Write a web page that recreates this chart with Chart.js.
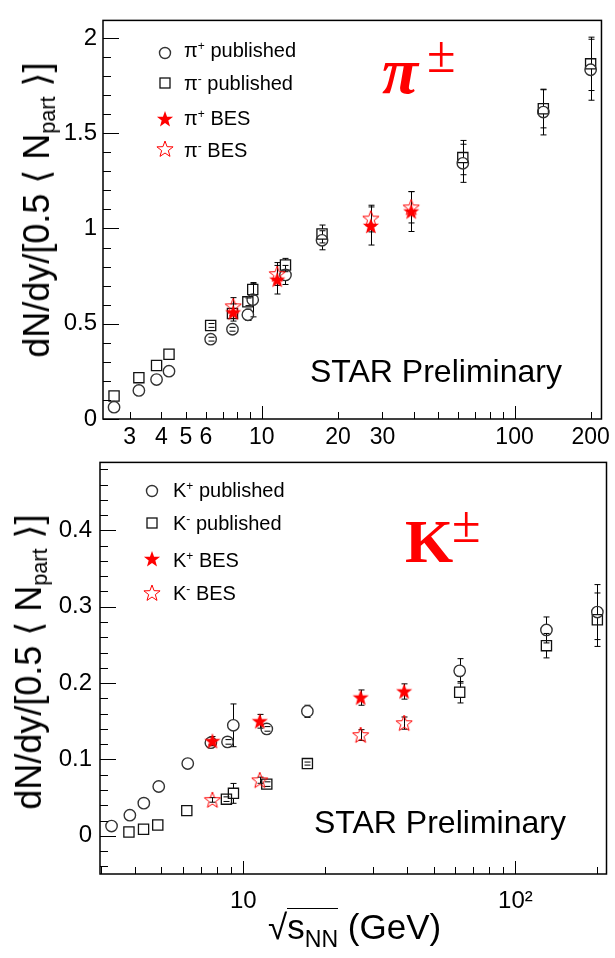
<!DOCTYPE html>
<html><head><meta charset="utf-8">
<script src="https://cdn.jsdelivr.net/npm/chart.js@4/dist/chart.umd.min.js"></script>
<style>
html,body{margin:0;padding:0;background:#fff;}
body{width:615px;height:958px;position:relative;overflow:hidden;font-family:"Liberation Sans",Arial,sans-serif;}
canvas{position:absolute;left:0;}
#c1{top:0;width:615px;height:450px;}
#c2{top:440px;width:615px;height:518px;}
.t{position:absolute;white-space:nowrap;line-height:1;color:#000;}
.sup{position:relative;font-size:0.6em;top:-0.55em;}
.sub{position:relative;font-size:0.6em;top:0.3em;}
.leg{font-size:20px;}
.star{font-size:32px;}
.big{font-family:"Liberation Serif","Times New Roman",serif;color:#ff0000;}
.ytitle{font-size:36px;transform:translate(-50%,-50%) rotate(-90deg);}
.ov{display:inline-block;border-top:1.5px solid #000;line-height:1;}
</style></head>
<body>
<canvas id="c1" width="615" height="450"></canvas>
<canvas id="c2" width="615" height="518"></canvas>

<!-- top panel texts -->
<div class="t ytitle" style="left:36.5px;top:210px;">dN/dy/[0.5 ⟨ N<span class="sub">part</span> ⟩]</div>
<div class="t leg" style="left:184px;top:40px;">π<span class="sup">+</span> published</div>
<div class="t leg" style="left:184px;top:73px;">π<span class="sup">-</span> published</div>
<div class="t leg" style="left:184px;top:108px;">π<span class="sup">+</span> BES</div>
<div class="t leg" style="left:184px;top:140px;">π<span class="sup">-</span> BES</div>
<div class="t star" style="left:310px;top:355px;">STAR Preliminary</div>
<div class="t big" style="left:382px;top:38px;font-size:66px;font-weight:bold;font-style:italic;">π</div>
<div class="t big" style="left:427px;top:29px;font-size:52px;">±</div>

<!-- bottom panel texts -->
<div class="t ytitle" style="left:28.5px;top:662px;">dN/dy/[0.5 ⟨ N<span class="sub">part</span> ⟩]</div>
<div class="t leg" style="left:173px;top:480px;">K<span class="sup">+</span> published</div>
<div class="t leg" style="left:173px;top:513px;">K<span class="sup">-</span> published</div>
<div class="t leg" style="left:173px;top:550px;">K<span class="sup">+</span> BES</div>
<div class="t leg" style="left:173px;top:583px;">K<span class="sup">-</span> BES</div>
<div class="t star" style="left:314px;top:806px;">STAR Preliminary</div>
<div class="t big" style="left:405px;top:510px;font-size:62px;font-weight:bold;">K</div>
<div class="t big" style="left:452px;top:499px;font-size:52px;">±</div>
<div class="t" style="left:268px;top:908px;font-size:35px;">√<span class="ov">s<span style="position:relative;font-size:0.66em;top:0.35em;">NN</span></span> (GeV)</div>

<script>
// ---------------- pion data ----------------
const piPubEnergy   = [2.6, 3.26, 3.83, 4.29, 6.27, 7.65, 8.8, 9.2, 12.4, 17.3, 62.4, 130, 200];
const piPlusPub     = [0.062, 0.150, 0.207, 0.251, 0.419, 0.471, 0.547, 0.626, 0.756, 0.938, 1.342, 1.611, 1.833];
const piPlusPubErr  = [0, 0, 0, 0, 0.01, 0.01, 0.03, 0.09, 0.05, 0.05, 0.10, 0.12, 0.16];
const piMinusPub    = [0.121, 0.217, 0.281, 0.340, 0.491, 0.554, 0.615, 0.680, 0.808, 0.971, 1.372, 1.628, 1.864];
const piMinusPubErr = [0, 0, 0, 0, 0.01, 0.01, 0.02, 0.03, 0.035, 0.047, 0.09, 0.10, 0.14];
const besEnergy     = [7.7, 11.5, 27, 39];
const piPlusBES     = [0.559, 0.731, 1.013, 1.089];
const piPlusBESErr  = [0.045, 0.075, 0.10, 0.105];
const piMinusBES    = [0.592, 0.761, 1.052, 1.111];
const piMinusBESErr = [0.045, 0.06, 0.07, 0.082];

// ---------------- kaon data ----------------
const kPlusPubEnergy  = [3.28, 3.83, 4.31, 4.89, 6.25, 7.6, 8.75, 9.19, 12.2, 17.2, 62.4, 130, 200];
const kPlusPub        = [0.0128, 0.027, 0.0428, 0.0646, 0.0946, 0.122, 0.123, 0.1447, 0.140, 0.163, 0.216, 0.2696, 0.293];
const kPlusPubErr     = [0, 0, 0, 0, 0, 0.003, 0.003, 0.028, 0.003, 0.008, 0.016, 0.017, 0.036];
const kMinusPubEnergy = [3.8, 4.3, 4.85, 6.2, 8.67, 9.2, 12.2, 17.2, 62.4, 130, 200];
const kMinusPub       = [0.005, 0.0086, 0.0141, 0.033, 0.048, 0.0556, 0.0677, 0.0946, 0.188, 0.249, 0.283];
const kMinusPubErr    = [0, 0, 0, 0, 0.003, 0.013, 0.003, 0.002, 0.014, 0.016, 0.035];
const kPlusBES        = [0.124, 0.150, 0.181, 0.189];
const kPlusBESErr     = [0.006, 0.009, 0.010, 0.010];
const kMinusBES       = [0.047, 0.0728, 0.132, 0.1476];
const kMinusBESErr    = [0.003, 0.004, 0.007, 0.008];

// ---------------- ticks ----------------
const piXTicks  = [3, 4, 5, 6, 7, 8, 9, 10, 20, 30, 40, 50, 60, 70, 80, 90, 100, 200];
const piXLabels = [3, 4, 5, 6, 10, 20, 30, 100, 200];
const piYTicks  = [0, 0.1, 0.2, 0.3, 0.4, 0.5, 0.6, 0.7, 0.8, 0.9, 1.0, 1.1, 1.2, 1.3, 1.4, 1.5, 1.6, 1.7, 1.8, 1.9, 2.0];
const piYLabels = [0, 0.5, 1, 1.5, 2];
const kXTicks   = [3, 4, 5, 6, 7, 8, 9, 10, 20, 30, 40, 50, 60, 70, 80, 90, 100, 200];
const kXLabelValues = [10, 100];
const kXLabelTexts  = ['10', '10²'];
const kYTicks   = [-0.04, -0.02, 0, 0.02, 0.04, 0.06, 0.08, 0.1, 0.12, 0.14, 0.16, 0.18, 0.2, 0.22, 0.24, 0.26, 0.28, 0.3, 0.32, 0.34, 0.36, 0.38, 0.4, 0.42, 0.44, 0.46, 0.48];
const kYLabels  = [0, 0.1, 0.2, 0.3, 0.4];
const xMajor = [10, 100];

Chart.defaults.font.family = '"Liberation Sans", Arial, sans-serif';
Chart.defaults.color = '#000';

function pts(xs, ys) { return xs.map((x, i) => ({ x: x, y: ys[i] })); }

function makeStar(filled) {
  const c = document.createElement('canvas');
  c.width = 20; c.height = 20;
  const g = c.getContext('2d');
  const R = 8.5, r = 3.5;
  g.beginPath();
  for (let k = 0; k < 10; k++) {
    const a = -Math.PI / 2 + k * Math.PI / 5;
    const rr = k % 2 === 0 ? R : r;
    const px = 10 + rr * Math.cos(a), py = 10.5 + rr * Math.sin(a);
    if (k === 0) g.moveTo(px, py); else g.lineTo(px, py);
  }
  g.closePath();
  if (filled) { g.fillStyle = '#ff0000'; g.fill(); }
  else { g.strokeStyle = '#ff0000'; g.lineWidth = 1; g.stroke(); }
  return c;
}
const starFilled = makeStar(true);
const starOpen = makeStar(false);

const CIRCLE_COLOR = '#333333';
const SQUARE_COLOR = '#111111';

const errorBarPlugin = {
  id: 'errorBars',
  beforeDatasetsDraw(chart) {
    const ctx = chart.ctx, xs = chart.scales.x, ys = chart.scales.y, a = chart.chartArea;
    ctx.save();
    ctx.beginPath(); ctx.rect(a.left, a.top, a.right - a.left, a.bottom - a.top); ctx.clip();
    ctx.strokeStyle = '#000'; ctx.lineWidth = 1;
    chart.data.datasets.forEach(ds => {
      if (!ds.errors) return;
      ds.data.forEach((p, j) => {
        const e = ds.errors[j];
        if (!e) return;
        const px = Math.round(xs.getPixelForValue(p.x)) + 0.5;
        const yt = ys.getPixelForValue(p.y + e), yb = ys.getPixelForValue(p.y - e), yc = ys.getPixelForValue(p.y);
        const g = ds.barGap || 0;
        ctx.beginPath();
        if (yc - g > yt) { ctx.moveTo(px, yt); ctx.lineTo(px, yc - g); }
        if (yc + g < yb) { ctx.moveTo(px, yc + g); ctx.lineTo(px, yb); }
        ctx.moveTo(px - 3, yt); ctx.lineTo(px + 3, yt);
        ctx.moveTo(px - 3, yb); ctx.lineTo(px + 3, yb);
        ctx.stroke();
      });
    });
    ctx.restore();
  }
};

const framePlugin = {
  id: 'frameTicks',
  afterDraw(chart, args, opts) {
    const ctx = chart.ctx, xs = chart.scales.x, ys = chart.scales.y, a = chart.chartArea;
    ctx.save();
    ctx.strokeStyle = '#000';
    ctx.lineWidth = 1;
    ctx.beginPath();
    opts.xTicks.forEach(v => {
      const px = Math.round(xs.getPixelForValue(v)) + 0.5;
      const len = opts.xMajor.includes(v) ? 13 : 7;
      ctx.moveTo(px, a.bottom); ctx.lineTo(px, a.bottom - len);
    });
    opts.yTicks.forEach(v => {
      const py = Math.round(ys.getPixelForValue(v)) + 0.5;
      const len = opts.yMajor.includes(v) ? 16 : 8;
      ctx.moveTo(a.left, py); ctx.lineTo(a.left + len, py);
    });
    ctx.stroke();
    ctx.lineWidth = 1.5;
    ctx.strokeRect(a.left, a.top, a.right - a.left, a.bottom - a.top);
    // legend markers
    (opts.legend || []).forEach(it => {
      ctx.save();
      if (it.type === 'circle') {
        ctx.strokeStyle = CIRCLE_COLOR; ctx.lineWidth = 1.4;
        ctx.beginPath(); ctx.arc(it.x, it.y, 5.5, 0, Math.PI * 2); ctx.stroke();
      } else if (it.type === 'rect') {
        ctx.strokeStyle = SQUARE_COLOR; ctx.lineWidth = 1.3;
        ctx.strokeRect(it.x - 5, it.y - 5, 10, 10);
      } else {
        const img = it.type === 'starFilled' ? starFilled : starOpen;
        ctx.drawImage(img, it.x - img.width / 2, it.y - img.height / 2);
      }
      ctx.restore();
    });
    ctx.restore();
  }
};

function circleDS(label, data, errors) {
  return { label, data, errors, barGap: 5.5, pointStyle: 'circle', pointRadius: 5.7, borderWidth: 1.4,
           borderColor: CIRCLE_COLOR, backgroundColor: 'rgba(0,0,0,0)', showLine: false };
}
function squareDS(label, data, errors) {
  return { label, data, errors, barGap: 5, pointStyle: 'rect', pointRadius: 7.2, borderWidth: 1.3,
           borderColor: SQUARE_COLOR, backgroundColor: 'rgba(0,0,0,0)', showLine: false };
}
function starDS(label, data, errors, img) {
  return { label, data, errors, barGap: 0, pointStyle: img, pointRadius: 8, borderWidth: 0,
           borderColor: '#ff0000', backgroundColor: '#ff0000', showLine: false };
}

// ---------------- top chart (pions) ----------------
new Chart(document.getElementById('c1'), {
  type: 'scatter',
  data: {
    datasets: [
      starDS('π+ BES', pts(besEnergy, piPlusBES), piPlusBESErr, starFilled),
      starDS('π- BES', pts(besEnergy, piMinusBES), piMinusBESErr, starOpen),
      circleDS('π+ published', pts(piPubEnergy, piPlusPub), piPlusPubErr),
      squareDS('π- published', pts(piPubEnergy, piMinusPub), piMinusPubErr)
    ]
  },
  options: {
    responsive: false, animation: false, events: [],
    layout: { padding: { top: 5, right: 9, left: 0, bottom: 0 } },
    scales: {
      x: {
        type: 'logarithmic', min: 2.351, max: 220.8,
        grid: { display: false, drawTicks: false }, border: { display: false },
        afterBuildTicks: s => { s.ticks = piXLabels.map(v => ({ value: v })); },
        afterFit: s => { s.height = 31; },
        ticks: { autoSkip: false, maxRotation: 0, padding: 5, font: { size: 23 },
                 callback: v => piXLabels.includes(v) ? String(v) : '' }
      },
      y: {
        type: 'linear', min: 0, max: 2.092,
        grid: { display: false, drawTicks: false }, border: { display: false },
        afterBuildTicks: s => { s.ticks = piYLabels.map(v => ({ value: v })); },
        afterFit: s => { s.width = 103; },
        ticks: { autoSkip: false, padding: 6, font: { size: 24 }, callback: v => String(v) }
      }
    },
    plugins: {
      legend: { display: false }, tooltip: { enabled: false },
      frameTicks: {
        xTicks: piXTicks, xMajor: xMajor, yTicks: piYTicks, yMajor: piYLabels,
        legend: [
          { type: 'circle', x: 165, y: 53 },
          { type: 'rect', x: 165, y: 83 },
          { type: 'starFilled', x: 165, y: 119 },
          { type: 'starOpen', x: 165, y: 149 }
        ]
      }
    }
  },
  plugins: [errorBarPlugin, framePlugin]
});

// ---------------- bottom chart (kaons) ----------------
new Chart(document.getElementById('c2'), {
  type: 'scatter',
  data: {
    datasets: [
      starDS('K+ BES', pts(besEnergy, kPlusBES), kPlusBESErr, starFilled),
      starDS('K- BES', pts(besEnergy, kMinusBES), kMinusBESErr, starOpen),
      circleDS('K+ published', pts(kPlusPubEnergy, kPlusPub), kPlusPubErr),
      squareDS('K- published', pts(kMinusPubEnergy, kMinusPub), kMinusPubErr)
    ]
  },
  options: {
    responsive: false, animation: false, events: [],
    layout: { padding: { top: 14, right: 5, left: 0, bottom: 0 } },
    scales: {
      x: {
        type: 'logarithmic', min: 2.975, max: 216.1,
        grid: { display: false, drawTicks: false }, border: { display: false },
        afterBuildTicks: s => { s.ticks = kXLabelValues.map(v => ({ value: v })); },
        afterFit: s => { s.height = 84; },
        ticks: { autoSkip: false, maxRotation: 0, padding: 13, font: { size: 24 },
                 callback: v => { const i = kXLabelValues.indexOf(v); return i >= 0 ? kXLabelTexts[i] : ''; } }
      },
      y: {
        type: 'linear', min: -0.050, max: 0.489,
        grid: { display: false, drawTicks: false }, border: { display: false },
        afterBuildTicks: s => { s.ticks = kYLabels.map(v => ({ value: v })); },
        afterFit: s => { s.width = 100; },
        ticks: { autoSkip: false, padding: 8, font: { size: 24 }, callback: v => String(v) }
      }
    },
    plugins: {
      legend: { display: false }, tooltip: { enabled: false },
      frameTicks: {
        xTicks: kXTicks, xMajor: xMajor, yTicks: kYTicks, yMajor: kYLabels,
        legend: [
          { type: 'circle', x: 152, y: 51 },
          { type: 'rect', x: 152, y: 83 },
          { type: 'starFilled', x: 152, y: 119 },
          { type: 'starOpen', x: 152, y: 153 }
        ]
      }
    }
  },
  plugins: [errorBarPlugin, framePlugin]
});
</script>
</body></html>
